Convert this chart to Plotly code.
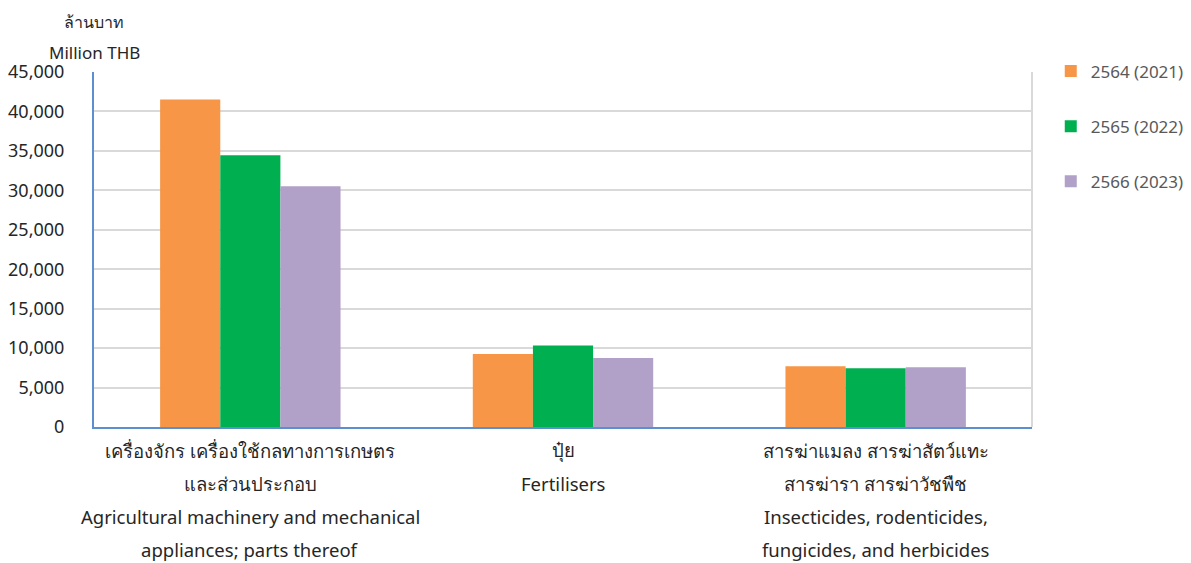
import plotly.graph_objects as go

categories = ["agri", "fert", "pest"]
category_lines = [
    ["เครื่องจักร เครื่องใช้กลทางการเกษตร", "และส่วนประกอบ",
     "Agricultural machinery and mechanical", "appliances; parts thereof"],
    ["ปุ๋ย", "Fertilisers"],
    ["สารฆ่าแมลง สารฆ่าสัตว์แทะ", "สารฆ่ารา สารฆ่าวัชพืช",
     "Insecticides, rodenticides,", "fungicides, and herbicides"],
]
series_names = ["2564 (2021)", "2565 (2022)", "2566 (2023)"]
values_2564 = [41500, 9240, 7690]
values_2565 = [34450, 10330, 7440]
values_2566 = [30510, 8760, 7560]
series_values = [values_2564, values_2565, values_2566]
colors = ["#F79646", "#00B050", "#B1A0C7"]
y_ticks = [0, 5000, 10000, 15000, 20000, 25000, 30000, 35000, 40000, 45000]
y_tick_labels = ["0", "5,000", "10,000", "15,000", "20,000", "25,000",
                 "30,000", "35,000", "40,000", "45,000"]

FONT = "Noto Sans, Tahoma, sans-serif"

fig = go.Figure()
for i, (name, vals, col) in enumerate(zip(series_names, series_values, colors)):
    fig.add_trace(go.Bar(
        x=categories, y=vals, name=name, marker=dict(color=col, line=dict(width=0)),
        legendgroup=str(i),
    ))

annotations = []
for cat, lines in zip(categories, category_lines):
    for j, line in enumerate(lines):
        annotations.append(dict(
            x=cat, xref="x", y=0, yref="paper", yanchor="middle", xanchor="center",
            yshift=-23 - 33 * j, text=line, showarrow=False,
            font=dict(family=FONT, size=18.5, color="#262626"),
        ))
annotations.append(dict(x=0, xref="paper", y=1, yref="paper", yanchor="middle",
                        xanchor="center", yshift=50, text="ล้านบาท", showarrow=False,
                        font=dict(family=FONT, size=16, color="#262626")))
annotations.append(dict(x=0, xref="paper", y=1, yref="paper", yanchor="middle",
                        xanchor="center", yshift=20, text="Million THB", showarrow=False,
                        font=dict(family=FONT, size=17, color="#262626")))

fig.update_layout(
    width=1191, height=563,
    margin=dict(l=94, r=159, t=72, b=136, autoexpand=False),
    paper_bgcolor="white", plot_bgcolor="white",
    barmode="group", bargap=0.423, bargroupgap=0,
    font=dict(family=FONT, color="#262626"),
    showlegend=True,
    legend=dict(x=1.02, y=1.052, xanchor="left", yanchor="top",
                font=dict(family=FONT, size=17, color="#595959"),
                tracegroupgap=30, itemwidth=30),
    annotations=annotations,
    shapes=[dict(type="line", xref="paper", yref="paper", x0=1, x1=1, y0=0, y1=1,
                 line=dict(color="#D9D9D9", width=2))],
)
fig.update_xaxes(range=[-0.5, 2.5], showticklabels=False, showline=True,
                 linecolor="#5B8FD0", linewidth=2, showgrid=False, ticks="")
fig.update_yaxes(range=[0, 45000], tickvals=y_ticks, ticktext=y_tick_labels,
                 showline=True, linecolor="#5B8FD0", linewidth=2,
                 showgrid=True, gridcolor="#D9D9D9", gridwidth=2, zeroline=False,
                 ticks="", ticklabelstandoff=24,
                 tickfont=dict(family=FONT, size=18, color="#262626"))

fig.write_html("out.html", config={"displayModeBar": False},
               post_script="document.body.style.margin='0';")
